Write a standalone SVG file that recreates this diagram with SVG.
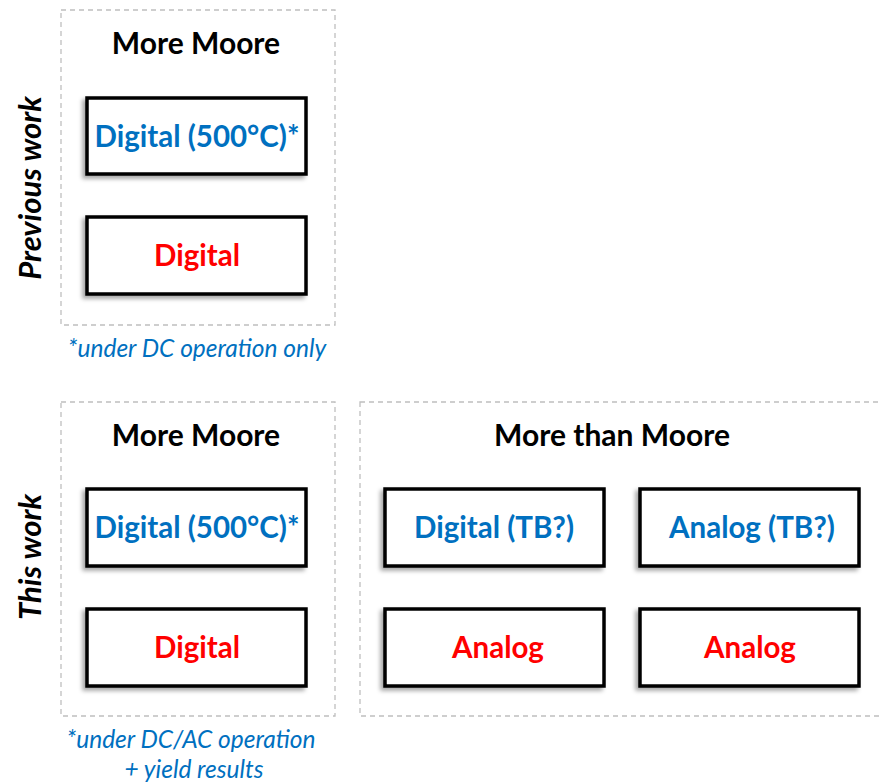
<svg xmlns="http://www.w3.org/2000/svg" width="879" height="783" viewBox="0 0 879 783">
<defs>
<filter id="sh" x="-10%" y="-20%" width="120%" height="140%">
<feDropShadow dx="-3" dy="3" stdDeviation="2" flood-color="#000" flood-opacity="0.35"/>
</filter>
</defs>
<style>
.frame{fill:none;stroke:#bfbfbf;stroke-width:1.3;stroke-dasharray:5 4}
.box{fill:#fff;stroke:#000;stroke-width:3.5;filter:url(#sh)}
text{font-family:Lato,"Open Sans","Liberation Sans",sans-serif;font-weight:bold;text-anchor:middle}
.title{font-size:30px;fill:#000}
.blue{font-size:29.5px;fill:#0070C0}
.red{font-size:29.5px;fill:#FF0000}
.side{font-size:31px;font-style:italic;fill:#000}
.note{font-size:24.5px;font-style:italic;font-weight:normal;fill:#0070C0}
</style>
<rect width="879" height="783" fill="#fff"/>
<g id="frame-prev">
<rect class="frame" x="61" y="10" width="274" height="315"/>
<text class="title" x="196" y="54">More Moore</text>
</g>
<g id="label-prev"><text class="side" transform="translate(41,188) rotate(-90)">Previous work</text></g>
<g id="node-prev-digital500">
<rect class="box" x="87" y="98" width="219" height="76"/>
<text class="blue" x="197" y="147">Digital (500°C)*</text>
</g>
<g id="node-prev-digital">
<rect class="box" x="87" y="217" width="219" height="77"/>
<text class="red" x="197" y="266">Digital</text>
</g>
<g id="note-prev"><text class="note" x="197" y="357">*under DC operation only</text></g>

<g id="frame-this-mm">
<rect class="frame" x="61" y="402" width="274" height="314"/>
<text class="title" x="196" y="446">More Moore</text>
</g>
<g id="label-this"><text class="side" transform="translate(41,557) rotate(-90)">This work</text></g>
<g id="node-this-digital500">
<rect class="box" x="87" y="489" width="219" height="77"/>
<text class="blue" x="197" y="538">Digital (500°C)*</text>
</g>
<g id="node-this-digital">
<rect class="box" x="87" y="609" width="219" height="77"/>
<text class="red" x="197" y="658">Digital</text>
</g>
<g id="note-this">
<text class="note" x="191" y="748">*under DC/AC operation</text>
<text class="note" x="194" y="778">+ yield results</text>
</g>

<g id="frame-this-mtm">
<rect class="frame" x="360" y="402" width="530" height="314"/>
<text class="title" x="612" y="446">More than Moore</text>
</g>
<g id="node-digital-tb">
<rect class="box" x="385" y="489" width="219" height="77"/>
<text class="blue" x="494" y="538">Digital (TB?)</text>
</g>
<g id="node-analog-tb">
<rect class="box" x="640" y="489" width="219" height="77"/>
<text class="blue" x="752" y="538">Analog (TB?)</text>
</g>
<g id="node-analog-1">
<rect class="box" x="385" y="609" width="219" height="77"/>
<text class="red" x="498" y="658">Analog</text>
</g>
<g id="node-analog-2">
<rect class="box" x="640" y="609" width="219" height="77"/>
<text class="red" x="750" y="658">Analog</text>
</g>
<g id="connectors"/>
</svg>
